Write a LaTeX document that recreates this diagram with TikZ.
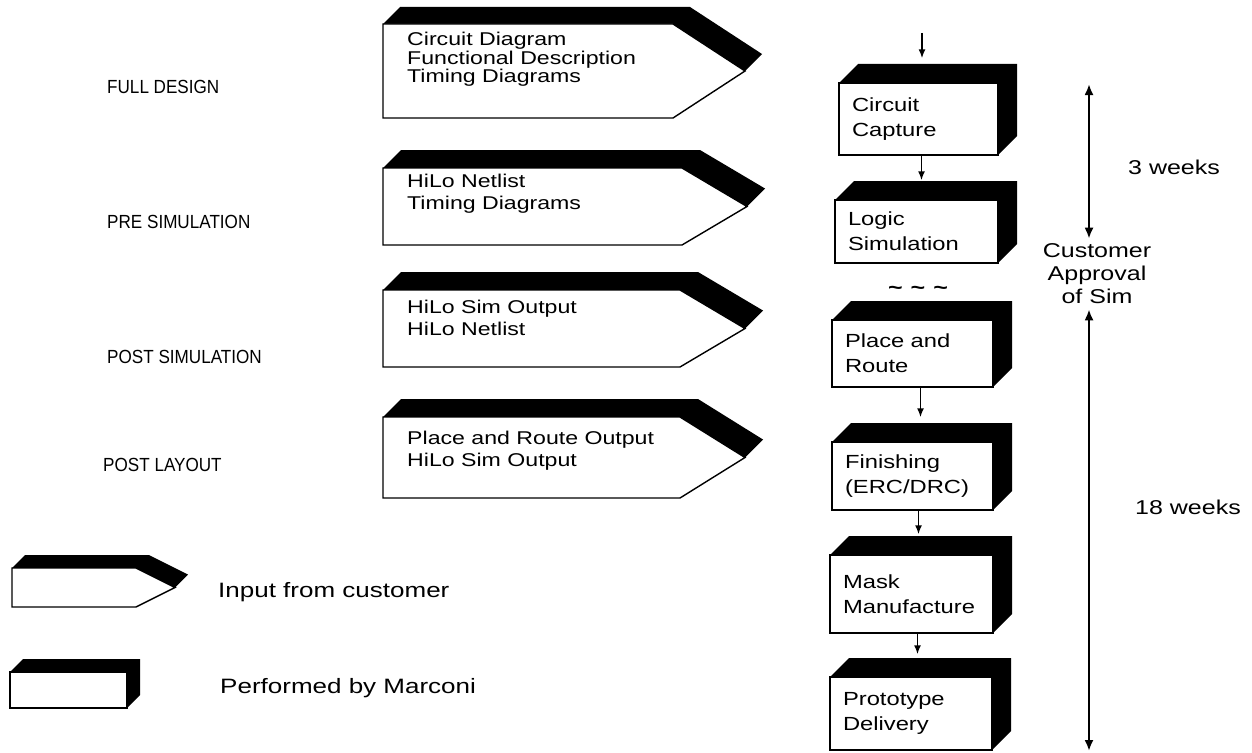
\documentclass[tikz,border=0pt]{standalone}
\usepackage{fontspec}
\setmainfont{Liberation Sans}[FakeStretch=1.25]
\newfontfamily\lblfont{Liberation Sans}[FakeStretch=0.9]
\usetikzlibrary{arrows.meta}
\newcommand{\inpent}[6]{% left, top, bottom, shoulder x, point x, depth
  \fill[shade3d] (#1,#2) -- ++(#6,-#6) -- ({#4+#6},{#2-#6}) -- ({#5+#6},{(#2+#3)/2-#6}) -- (#5,{(#2+#3)/2}) -- (#4,#2) -- cycle;
  \draw[front] (#1,#2) -- (#4,#2) -- (#5,{(#2+#3)/2}) -- (#4,#3) -- (#1,#3) -- cycle;
}
\newcommand{\procshade}[5]{% left, top, right, bottom, depth
  \fill[shade3d] (#1,#2) -- ++(#5,-#5) -- ({#3+#5},{#2-#5}) -- ({#3+#5},{#4-#5}) -- (#3,#4) -- (#3,#2) -- cycle;
}
\begin{document}
\begin{tikzpicture}[x=1pt,y=-1pt,
  shade3d/.style={fill=black},
  front/.style={draw=black, line width=1.4pt, fill=white, line join=miter},
  intext/.style={anchor=north west, align=left, inner sep=0pt, font=\fontsize{18.5}{18.5}\selectfont},
  intextb/.style={intext, font=\fontsize{18.5}{22}\selectfont},
  procnode/.style={draw=black, line width=1.4pt, fill=white, align=left, inner xsep=13pt, inner ysep=0pt, font=\fontsize{19}{25}\selectfont},
  lbl/.style={anchor=west, inner sep=0pt, font=\lblfont\fontsize{19}{21}\selectfont},
  leg/.style={anchor=west, inner sep=0pt, font=\fontsize{20}{22}\selectfont},
  legb/.style={leg, font=\fontsize{20.8}{22}\selectfont},
  flow/.style={line width=1.6pt, -{Latex[length=9pt,width=7pt]}},
  span/.style={line width=2.3pt, {Latex[length=11pt,width=9pt]}-{Latex[length=11pt,width=9pt]}},
]
\useasboundingbox (0,0) rectangle (1252,752);

% left stage labels
\node[lbl] (l1) at (107,87) {FULL DESIGN};
\node[lbl] (l2) at (107,222) {PRE SIMULATION};
\node[lbl] (l3) at (107,357) {POST SIMULATION};
\node[lbl] (l4) at (103,465) {POST LAYOUT};

% customer inputs
\inpent{383}{24}{118}{673}{745}{17}
\node[intext] (t1) at (407,32) {Circuit Diagram\\Functional Description\\Timing Diagrams};
\inpent{383}{168}{245}{682}{747}{18}
\node[intextb] (t2) at (407,174) {HiLo Netlist\\Timing Diagrams};
\inpent{383}{290}{367}{680}{745}{18}
\node[intextb] (t3) at (407,300) {HiLo Sim Output\\HiLo Netlist};
\inpent{383}{417}{498}{680}{745}{18}
\node[intextb] (t4) at (407,431) {Place and Route Output\\HiLo Sim Output};

% process boxes
\procshade{839}{83}{998}{155}{19}
\node[procnode, minimum width=159pt, minimum height=72pt, text width=133pt] (cc) at (918.5,119) {Circuit\\Capture};
\procshade{835}{200}{998}{263}{19}
\node[procnode, minimum width=163pt, minimum height=63pt, text width=137pt] (ls) at (916.5,231.5) {Logic\\Simulation};
\procshade{832}{320}{993}{387}{19}
\node[procnode, minimum width=161pt, minimum height=67pt, text width=135pt] (pr) at (912.5,353.5) {Place and\\Route};
\procshade{832}{442}{993}{510}{19}
\node[procnode, minimum width=161pt, minimum height=68pt, text width=135pt] (fi) at (912.5,476) {Finishing\\(ERC/DRC)};
\procshade{830}{555}{993}{633}{19}
\node[procnode, minimum width=163pt, minimum height=78pt, text width=137pt] (mm) at (911.5,594) {Mask\\Manufacture};
\procshade{830}{677}{992}{750}{19}
\node[procnode, minimum width=162pt, minimum height=73pt, text width=136pt] (pd) at (911,713.5) {Prototype\\Delivery};

\node[font=\fontsize{20}{20}\selectfont\bfseries, inner sep=0pt] (brk) at (918,290) {\textasciitilde\hspace{8pt}\textasciitilde\hspace{8pt}\textasciitilde};

% flow arrows
\coordinate (start) at (922,33);
\coordinate (cc-t) at ([yshift=24pt]cc.north);
\coordinate (ls-t) at ([yshift=19pt]ls.north);
\coordinate (fi-t) at ([yshift=24pt]fi.north);
\coordinate (mm-t) at ([yshift=20pt]mm.north);
\coordinate (pd-t) at ([yshift=22pt]pd.north);
\draw[flow] (start) -- (start |- cc-t);
\draw[flow] ([xshift=3pt]cc.south) -- ([xshift=3pt]cc.south |- ls-t);
\draw[flow] ([xshift=8pt]pr.south) -- ([xshift=8pt]pr.south |- fi-t);
\draw[flow] ([xshift=6pt]fi.south) -- ([xshift=6pt]fi.south |- mm-t);
\draw[flow] ([xshift=6pt]mm.south) -- ([xshift=6pt]mm.south |- pd-t);

% timing
\node[font=\fontsize{20}{23}\selectfont, align=center, inner sep=0pt] (appr) at (1097,274) {Customer\\Approval\\of Sim};
\coordinate (w3top) at (1089,84);
\coordinate (w18bot) at (1089,751);
\draw[span, shorten >=5pt] (w3top) -- (w3top |- appr.north);
\draw[span, shorten >=5pt] (w18bot) -- (w18bot |- appr.south);
\node[leg] (w3) at (1128,167) {3 weeks};
\node[leg] (w18) at (1135,507) {18 weeks};

% legend
\inpent{12}{568}{607}{136}{175}{13}
\node[legb] (lin) at (218,592) {Input from customer};
\procshade{10}{672}{127}{708}{13}
\node[draw=black, line width=1.4pt, fill=white, minimum width=117pt, minimum height=36pt, inner sep=0pt] (lproc) at (68.5,690) {};
\node[legb] (lperf) at (220,688) {Performed by Marconi};
\end{tikzpicture}
\end{document}
